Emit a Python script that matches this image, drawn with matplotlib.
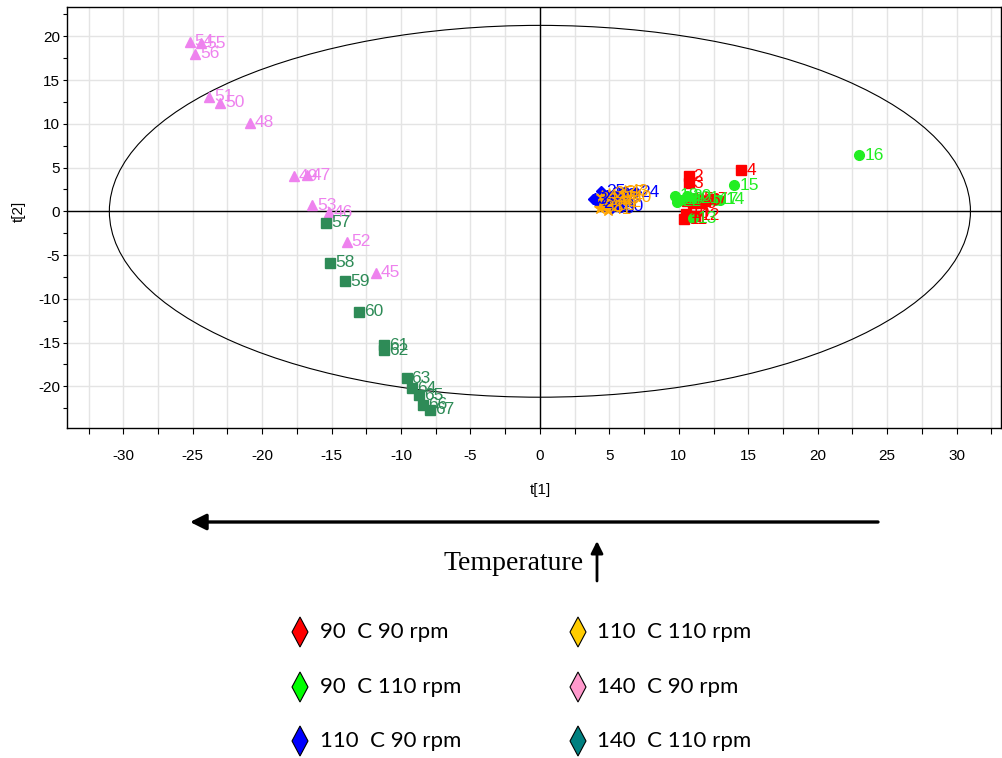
import numpy as np
import matplotlib.pyplot as plt
from matplotlib.patches import Ellipse, Polygon

# scores t[1], t[2] per group, with observation numbers
red_ids = [1, 2, 3, 4, 5, 6, 7, 8, 9, 10, 11, 12]
red_t1 = [10.6, 10.7, 10.7, 14.5, 11.4, 11.9, 12.4, 11.0, 11.6, 10.5, 10.4, 11.2]
red_t2 = [1.2, 4.0, 3.2, 4.7, 1.4, 1.2, 1.4, 1.0, 0.9, -0.3, -0.9, -0.5]

green_ids = [13, 14, 15, 16, 17, 18, 19, 20, 21, 22]
green_t1 = [11.0, 13.0, 14.0, 23.0, 12.6, 9.7, 10.1, 10.6, 11.2, 9.9]
green_t2 = [-0.8, 1.3, 3.0, 6.4, 1.3, 1.8, 1.3, 1.7, 1.5, 1.1]

blue_ids = [23, 24, 25, 26, 27, 28, 29, 30, 31, 32, 33]
blue_t1 = [4.0, 6.9, 4.4, 4.6, 5.0, 4.2, 5.3, 5.7, 3.8, 4.8, 5.1]
blue_t2 = [1.5, 2.2, 2.3, 0.6, 1.0, 0.9, 1.8, 0.6, 1.4, 1.9, 0.3]

orange_ids = [34, 35, 36, 37, 38, 39, 40, 41, 42, 43, 44]
orange_t1 = [4.6, 5.0, 5.4, 5.8, 4.3, 5.2, 6.3, 4.9, 5.6, 6.1, 4.5]
orange_t2 = [1.2, 2.0, 1.5, 2.1, 0.4, 0.7, 1.6, 0.2, 1.0, 2.3, 1.7]

pink_ids = [45, 46, 47, 48, 49, 50, 51, 52, 53, 54, 55, 56]
pink_t1 = [-11.8, -15.2, -16.8, -20.9, -17.7, -23.0, -23.8, -13.9, -16.4, -25.2, -24.4, -24.8]
pink_t2 = [-7.0, -0.1, 4.1, 10.1, 4.0, 12.4, 13.1, -3.5, 0.7, 19.4, 19.2, 18.0]

dgreen_ids = [57, 58, 59, 60, 61, 62, 63, 64, 65, 66, 67]
dgreen_t1 = [-15.4, -15.1, -14.0, -13.0, -11.2, -11.2, -9.6, -9.2, -8.7, -8.4, -7.9]
dgreen_t2 = [-1.3, -5.9, -8.0, -11.5, -15.3, -15.9, -19.1, -20.2, -21.0, -22.1, -22.7]

legend_labels = ["90  C 90 rpm", "90  C 110 rpm", "110  C 90 rpm",
                 "110  C 110 rpm", "140  C 90 rpm", "140  C 110 rpm"]
legend_colors = ["#FF0000", "#00FF00", "#0000FF", "#FFCC00", "#FF99CC", "#008080"]

groups = [
    (red_ids, red_t1, red_t2, "#FF0000", "s"),
    (green_ids, green_t1, green_t2, "#22EE22", "o"),
    (blue_ids, blue_t1, blue_t2, "#0000FF", "D"),
    (orange_ids, orange_t1, orange_t2, "#FFA500", "*"),
    (pink_ids, pink_t1, pink_t2, "#EE82EE", "^"),
    (dgreen_ids, dgreen_t1, dgreen_t2, "#2E8B57", "s"),
]

plt.rcParams['font.family'] = ['Liberation Sans', 'DejaVu Sans']

fig = plt.figure(figsize=(10.03, 7.58), dpi=100)
ax = fig.add_axes([67 / 1003, 1 - 428 / 758, 934 / 1003, 421 / 758])

ax.set_xlim(-34.05, 33.2)
ax.set_ylim(-24.77, 23.35)

ax.set_xticks(np.arange(-30, 31, 5))
ax.set_xticks(np.arange(-32.5, 33, 2.5), minor=True)
ax.set_yticks(np.arange(-20, 21, 5))
ax.set_yticks(np.arange(-22.5, 23, 2.5), minor=True)
ax.set_xticklabels([str(v) for v in range(-30, 31, 5)])
ax.set_yticklabels([str(v) for v in range(-20, 21, 5)])

ax.set_axisbelow(True)
ax.grid(True, which='both', axis='x', color='#E4E4E4', lw=1)
ax.grid(True, which='major', axis='y', color='#E4E4E4', lw=1)
ax.tick_params(axis='x', which='both', direction='out', length=4, width=0.8, labelsize=11, pad=11)
ax.tick_params(axis='y', which='both', direction='out', length=3, width=0.8, labelsize=11, pad=2)
for sp in ax.spines.values():
    sp.set_linewidth(1)

ax.axhline(0, color='black', lw=1, zorder=1)
ax.axvline(0, color='black', lw=1, zorder=1)
ax.add_patch(Ellipse((0, 0), 2 * 31.0, 2 * 21.25, fill=False, edgecolor='black', lw=0.8, zorder=1))

for ids, xs, ys, color, mk in groups:
    ms = 7 if mk in ("s", "o", "^") else (9 if mk == "*" else 5)
    ax.plot(xs, ys, ls='none', marker=mk, color=color, markersize=ms, zorder=3)
    for i, x, y in zip(ids, xs, ys):
        ax.annotate(str(i), (x, y), xytext=(3.5, 0), textcoords='offset points',
                    color=color, fontsize=12.5, va='center', ha='left', zorder=4)

ax.set_xlabel("t[1]", fontsize=11)
ax.xaxis.set_label_coords((540 - 67) / 934, -(483 - 428) / 421)
ax.set_ylabel("t[2]", fontsize=11)
ax.yaxis.set_label_coords(-(67 - 26) / 934, (428 - 211) / 421)

# overlay in pixel coordinates for the arrows and legend
lax = fig.add_axes([0, 0, 1, 1], zorder=-1)
lax.set_xlim(0, 1003)
lax.set_ylim(758, 0)
lax.axis('off')

lax.annotate('', xy=(190, 522), xytext=(878, 522),
             arrowprops=dict(arrowstyle='-|>', color='black', lw=2.4,
                             mutation_scale=24, shrinkA=0, shrinkB=0))
lax.annotate('', xy=(597, 541), xytext=(597, 581),
             arrowprops=dict(arrowstyle='-|>', color='black', lw=2,
                             mutation_scale=18, shrinkA=0, shrinkB=0))
lax.text(514, 563, "Temperature", family='Liberation Serif', fontsize=20,
         ha='center', va='center')

rows = [632, 687, 741]
cols = [(300, 320), (578, 597)]
hw, hh = 8, 15
for k, (lab, col) in enumerate(zip(legend_labels, legend_colors)):
    mx, tx = cols[k // 3]
    y = rows[k % 3]
    lax.add_patch(Polygon([(mx, y - hh), (mx + hw, y), (mx, y + hh), (mx - hw, y)],
                          closed=True, facecolor=col, edgecolor='black', lw=0.8))
    lax.text(tx, y, lab, family='Lato', fontsize=16, ha='left', va='center')

fig.savefig("out.png", dpi=100)
